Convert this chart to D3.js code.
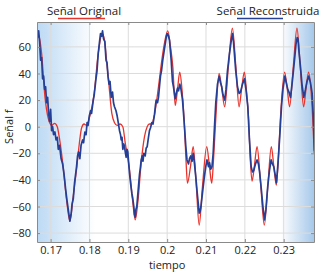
<!DOCTYPE html>
<html>
<head>
<meta charset="utf-8">
<script src="https://cdn.jsdelivr.net/npm/d3@7"></script>
<style>
body { margin: 0; background: #fff; }
text { font-family: "Open Sans", sans-serif; fill: #222; }
</style>
</head>
<body>
<script>
// señal original (roja, suave)
var origT = [0.16640, 0.16666, 0.16717, 0.16769, 0.16853, 0.16941, 0.17026, 0.17103, 0.17172, 0.17224, 0.17327, 0.17411, 0.17496, 0.17584, 0.17668, 0.17738, 0.17797, 0.17861, 0.17926, 0.18010, 0.18113, 0.18226, 0.18329,
	0.18388, 0.18440, 0.18491, 0.18576, 0.18645, 0.18714, 0.18787, 0.18859, 0.18920, 0.19031, 0.19116, 0.19178, 0.19245, 0.19332, 0.19417, 0.19486, 0.19545, 0.19597, 0.19674, 0.19777, 0.19887, 0.20016,
	0.20087, 0.20146, 0.20208, 0.20267, 0.20324, 0.20382, 0.20438, 0.20485, 0.20523, 0.20600, 0.20670, 0.20742, 0.20824, 0.20909, 0.21019, 0.21089, 0.21148, 0.21199, 0.21250, 0.21337, 0.21409, 0.21481, 0.21576, 0.21679,
	0.21769, 0.21851, 0.21923, 0.21987, 0.22039, 0.22098, 0.22141, 0.22185, 0.22244, 0.22314, 0.22399, 0.22501, 0.22591, 0.22681, 0.22746, 0.22810, 0.22861, 0.22913, 0.23023, 0.23093, 0.23152, 0.23247, 0.23342,
	0.23427, 0.23512, 0.23581, 0.23640, 0.23727, 0.23786]
var origV = [68, 70, 66, 55, 23, 6, 1, 2.5, 0, -8, -31, -55, -71, -52, -32, -13, -1, 2, 1, 8, 23, 55, 70,
	65, 50, 35, 10, 3, 1, 2, 0, -12, -32, -57, -70, -57, -27, -7.5, 0, 2, 2, 9, 30, 55, 72,
	60, 45, 16, 28, 41, 28, 5, -25, -42.5, -30, -15, -40, -74, -45, -15, -30, -42.5, -22, 5, 40, 28, 15, 45, 74,
	45, 15, 30, 41, 28, 5, -25, -41, -30, -15, -40, -74, -45, -15, -30, -44, -25, 5, 41, 28, 15, 45, 74,
	45, 15, 30, 41, 17, -20]

// señal reconstruida (azul, con ruido)
var recT = [0.16666, 0.16692, 0.16717, 0.16743, 0.16769, 0.16794, 0.16820, 0.16846, 0.16871, 0.16897, 0.16923, 0.16949, 0.16974, 0.17000, 0.17026, 0.17051, 0.17077, 0.17111, 0.17141, 0.17172, 0.17198, 0.17231, 0.17270, 0.17309, 0.17347, 0.17386, 0.17424, 0.17463, 0.17496,
	0.17527, 0.17553, 0.17584, 0.17617, 0.17643, 0.17668, 0.17694, 0.17720, 0.17753, 0.17784, 0.17823, 0.17849, 0.17882, 0.17913, 0.17939, 0.17964, 0.17996, 0.18029, 0.18054, 0.18098, 0.18123, 0.18164, 0.18195, 0.18226, 0.18260, 0.18285, 0.18311, 0.18337, 0.18363,
	0.18396, 0.18427, 0.18452, 0.18478, 0.18504, 0.18530, 0.18560, 0.18594, 0.18619, 0.18645, 0.18684, 0.18714, 0.18748, 0.18774, 0.18800, 0.18818, 0.18838, 0.18859, 0.18884, 0.18902, 0.18928, 0.18946, 0.18967, 0.18988, 0.19011, 0.19031, 0.19057, 0.19090, 0.19116, 0.19142, 0.19160, 0.19178,
	0.19198, 0.19219, 0.19242, 0.19262, 0.19288, 0.19314, 0.19332, 0.19357, 0.19378, 0.19399, 0.19435, 0.19461, 0.19486, 0.19519, 0.19545, 0.19571, 0.19604, 0.19635, 0.19674, 0.19699, 0.19717, 0.19751, 0.19777, 0.19802, 0.19828, 0.19854, 0.19887, 0.19918, 0.19949, 0.19975, 0.20000,
	0.20026, 0.20060, 0.20086, 0.20104, 0.20137, 0.20163, 0.20208, 0.20242, 0.20267, 0.20293, 0.20326, 0.20357, 0.20396, 0.20434, 0.20481, 0.20511, 0.20550, 0.20576, 0.20609, 0.20640, 0.20671, 0.20704, 0.20738, 0.20781, 0.20825, 0.20845, 0.20871, 0.20909, 0.20948, 0.20994,
	0.21025, 0.21064, 0.21090, 0.21123, 0.21154, 0.21185, 0.21219, 0.21252, 0.21296, 0.21339, 0.21373, 0.21406, 0.21437, 0.21483, 0.21514, 0.21553, 0.21604, 0.21656, 0.21681, 0.21707, 0.21766, 0.21810, 0.21854, 0.21887, 0.21939, 0.21990, 0.22029, 0.22076,
	0.22119, 0.22162, 0.22196, 0.22229, 0.22273, 0.22316, 0.22350, 0.22383, 0.22427, 0.22465, 0.22504, 0.22543, 0.22589, 0.22633, 0.22677, 0.22710, 0.22744, 0.22780, 0.22813, 0.22852, 0.22899, 0.22943, 0.22981, 0.23028,
	0.23059, 0.23105, 0.23136, 0.23175, 0.23226, 0.23278, 0.23316, 0.23347, 0.23368, 0.23388, 0.23432, 0.23470, 0.23517, 0.23561, 0.23599, 0.23645, 0.23689, 0.23732, 0.23766, 0.23792]
var recV = [67, 72, 64, 50, 52, 36, 38, 28, 30, 18, 22, 10, 4, 13, -3, 0, -6, -4, -10, -8, -17, -14, -24, -28, -36, -47, -56, -64, -71,
	-66, -58, -54, -42, -36, -30, -22, -19, -24, -14, -10, -12, -4, -6, 3, 1, 8, 12, 10, 20, 24, 35, 42, 55, 64, 70, 68, 72, 66,
	64, 50, 48, 38, 32, 34, 22, 26, 18, 15, 12, 8, 2, -3, -6, -10, -8, -17, -13, -15, -20, -23, -17, -19, -28, -35, -42, -50, -54, -60, -66, -68,
	-62, -60, -52, -45, -36, -30, -25, -22, -26, -20, -22, -16, -15, -8, -3, -1, 3, 2, 9, 16, 20, 18, 22, 30, 38, 42, 50, 56, 62, 67, 70,
	69, 65, 56, 50, 34, 30, 21, 26, 29, 27, 32, 28, 20, 5, -15, -25, -28, -24, -22, -26, -20, -28, -38, -52, -65, -64, -60, -50, -40, -30,
	-25, -30, -27, -32, -30, -20, 0, 18, 32, 38, 33, 30, 24, 20, 28, 42, 55, 66, 70, 64, 42, 30, 25, 26, 32, 36, 28, 15,
	-10, -30, -34, -33, -28, -25, -28, -35, -48, -60, -70, -62, -45, -33, -25, -28, -30, -36, -42, -28, -7, 15, 28, 38,
	34, 28, 26, 22, 35, 50, 62, 67, 66, 58, 45, 32, 22, 28, 34, 38, 33, 25, 5, -18]

var xTicks = [0.17, 0.18, 0.19, 0.20, 0.21, 0.22, 0.23]
var xTickLabels = ['0.17', '0.18', '0.19', '0.2', '0.21', '0.22', '0.23']
var yTicks = [-80, -60, -40, -20, 0, 20, 40, 60]

var width = 329, height = 276
var margin = {top: 22, right: 15, bottom: 34, left: 37},
	w = width - margin.left - margin.right,
	h = height - margin.top - margin.bottom

var x = d3.scaleLinear().domain([0.1665, 0.2378]).range([0, w])
var y = d3.scaleLinear().domain([-86.7, 78.7]).range([h, 0])

var svg = d3.select('body').append('svg')
	.attr('width', width)
	.attr('height', height)

var defs = svg.append('defs')
var grad = defs.append('linearGradient')
	.attr('id', 'bg')
	.attr('x1', '0%').attr('x2', '100%')
	.attr('y1', '0%').attr('y2', '0%')
grad.append('stop').attr('offset', '0%').attr('stop-color', '#bcd9f4')
grad.append('stop').attr('offset', '21%').attr('stop-color', '#ffffff')
grad.append('stop').attr('offset', '88%').attr('stop-color', '#ffffff')
grad.append('stop').attr('offset', '100%').attr('stop-color', '#a6c8ea')

defs.append('clipPath').attr('id', 'clip')
	.append('rect').attr('width', w).attr('height', h)

var g = svg.append('g')
	.attr('transform', 'translate(' + margin.left + ',' + margin.top + ')')

g.append('rect')
	.attr('width', w)
	.attr('height', h)
	.attr('fill', 'url(#bg)')

// grid
g.append('g').selectAll('line')
	.data(xTicks)
	.enter().append('line')
		.attr('x1', d => x(d)).attr('x2', d => x(d))
		.attr('y1', 0).attr('y2', h)
		.attr('stroke', '#dcdcdc')
		.attr('stroke-width', 1)

g.append('g').selectAll('line')
	.data(yTicks)
	.enter().append('line')
		.attr('x1', 0).attr('x2', w)
		.attr('y1', d => y(d)).attr('y2', d => y(d))
		.attr('stroke', '#dcdcdc')
		.attr('stroke-width', 1)

var lines = g.append('g').attr('clip-path', 'url(#clip)')

var orig = origT.map((t, i) => [t, origV[i]])
var rec = recT.map((t, i) => [t, recV[i]])

lines.append('path')
	.datum(orig)
	.attr('d', d3.line().x(d => x(d[0])).y(d => y(d[1])).curve(d3.curveMonotoneX))
	.attr('fill', 'none')
	.attr('stroke', '#e8332c')
	.attr('stroke-width', 1.3)

lines.append('path')
	.datum(rec)
	.attr('d', d3.line().x(d => x(d[0])).y(d => y(d[1])))
	.attr('fill', 'none')
	.attr('stroke', '#243f95')
	.attr('stroke-width', 1.7)
	.attr('stroke-linejoin', 'round')

// axes, box style with inward ticks
function styleAxis(sel) {
	sel.select('.domain').attr('stroke', '#8a8a8a')
	sel.selectAll('.tick line').attr('stroke', '#8a8a8a')
	sel.selectAll('.tick text')
		.style('font-family', '"Open Sans", sans-serif')
		.style('font-size', '11px')
		.attr('fill', '#222')
}

g.append('g')
	.attr('transform', 'translate(0,' + h + ')')
	.call(d3.axisBottom(x).tickValues(xTicks).tickFormat((d, i) => xTickLabels[i])
		.tickSizeInner(-3).tickSizeOuter(0).tickPadding(4))
	.call(styleAxis)

g.append('g')
	.call(d3.axisTop(x).tickValues(xTicks).tickFormat('')
		.tickSizeInner(-3).tickSizeOuter(0))
	.call(styleAxis)

g.append('g')
	.call(d3.axisLeft(y).tickValues(yTicks)
		.tickSizeInner(-3).tickSizeOuter(0).tickPadding(6))
	.call(styleAxis)

g.append('g')
	.attr('transform', 'translate(' + w + ',0)')
	.call(d3.axisRight(y).tickValues(yTicks).tickFormat('')
		.tickSizeInner(-3).tickSizeOuter(0))
	.call(styleAxis)

// axis titles
svg.append('text')
	.attr('x', margin.left + x(0.20))
	.attr('y', 269)
	.attr('text-anchor', 'middle')
	.style('font-size', '11px')
	.text('tiempo')

svg.append('text')
	.attr('transform', 'translate(13,' + (margin.top + y(0)) + ') rotate(-90)')
	.attr('text-anchor', 'middle')
	.style('font-size', '11px')
	.text('Señal f')

// legend labels at the top
var legend = [
	{label: 'Señal Original', x: 84, color: '#e8332c', u1: 58, u2: 105},
	{label: 'Señal Reconstruida', x: 268, color: '#243f95', u1: 237, u2: 283}
]

svg.selectAll('.leg')
	.data(legend)
	.enter().append('text')
		.attr('class', 'leg')
		.attr('x', d => d.x)
		.attr('y', 15)
		.attr('text-anchor', 'middle')
		.style('font-size', '11.5px')
		.text(d => d.label)

svg.selectAll('.legline')
	.data(legend)
	.enter().append('line')
		.attr('x1', d => d.u1).attr('x2', d => d.u2)
		.attr('y1', 18.5).attr('y2', 18.5)
		.attr('stroke', d => d.color)
		.attr('stroke-width', 1.5)
</script>
</body>
</html>
